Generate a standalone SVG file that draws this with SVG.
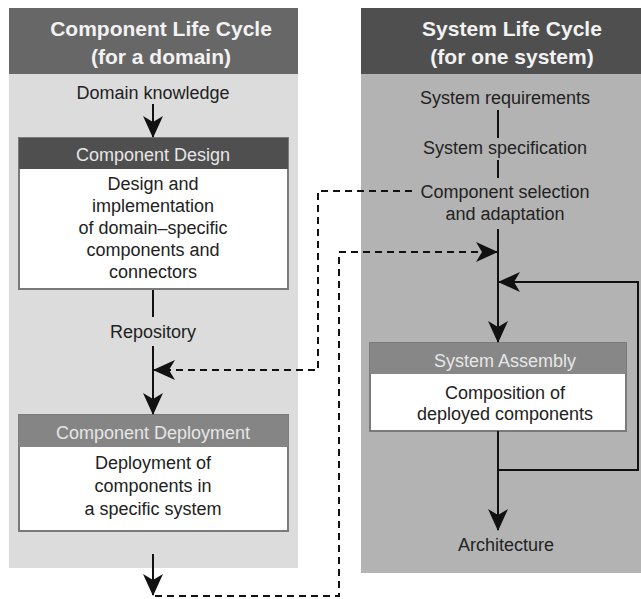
<svg xmlns="http://www.w3.org/2000/svg" width="641" height="599" viewBox="0 0 641 599">
  <style>
    text { font-family: "Liberation Sans", Arial, sans-serif; text-anchor: middle; }
    .title { font-size: 21px; font-weight: bold; fill: #f2f2f2; }
    .body { font-size: 18px; fill: #222; }
    .hdr { font-size: 18px; fill: #e6e6e6; }
    .box { fill: #fff; stroke: #7a7a7a; stroke-width: 2; }
    .solid { fill: none; stroke: #111; stroke-width: 2; }
    .dash { fill: none; stroke: #111; stroke-width: 2; stroke-dasharray: 7 5; }
  </style>
  <defs>
    <marker id="arrow" viewBox="0 0 22 20" markerWidth="22" markerHeight="20" refX="21" refY="10" orient="auto" markerUnits="userSpaceOnUse">
      <path d="M0,0 L22,10 L0,20 L6,10 z" fill="#111"/>
    </marker>
  </defs>

  <!-- Left column: component life cycle -->
  <g id="component-life-cycle">
    <rect x="9" y="74" width="289" height="494" fill="#dcdcdc"/>
    <rect x="9" y="8" width="289" height="66" fill="#676767"/>
    <text class="title" x="161" y="36">Component Life Cycle</text>
    <text class="title" x="161" y="64">(for a domain)</text>
    <text class="body" x="153" y="99">Domain knowledge</text>
    <text class="body" x="153" y="338">Repository</text>
  </g>

  <!-- Right column: system life cycle -->
  <g id="system-life-cycle">
    <rect x="361" y="74" width="280" height="499" fill="#b3b3b3"/>
    <rect x="361" y="8" width="280" height="66" fill="#4f4f4f"/>
    <text class="title" x="512" y="36">System Life Cycle</text>
    <text class="title" x="512" y="64">(for one system)</text>
    <text class="body" x="505" y="104">System requirements</text>
    <text class="body" x="505" y="154">System specification</text>
    <text class="body" x="505" y="198">Component selection</text>
    <text class="body" x="505" y="220">and adaptation</text>
    <text class="body" x="506" y="551">Architecture</text>
  </g>

  <g id="component-design">
    <rect class="box" x="19" y="138" width="269" height="151"/>
    <rect x="19" y="138" width="269" height="31" fill="#4f4f4f"/>
    <text class="hdr" x="153" y="161">Component Design</text>
    <text class="body" x="153" y="190">Design and</text>
    <text class="body" x="153" y="212">implementation</text>
    <text class="body" x="153" y="234">of domain–specific</text>
    <text class="body" x="153" y="256">components and</text>
    <text class="body" x="153" y="278">connectors</text>
  </g>

  <g id="component-deployment">
    <rect class="box" x="19" y="415" width="269" height="116"/>
    <rect x="19" y="415" width="269" height="32" fill="#858585"/>
    <text class="hdr" x="153" y="439">Component Deployment</text>
    <text class="body" x="153" y="469">Deployment of</text>
    <text class="body" x="153" y="492">components in</text>
    <text class="body" x="153" y="515">a specific system</text>
  </g>

  <g id="system-assembly">
    <rect class="box" x="370" y="343" width="256" height="88"/>
    <rect x="370" y="343" width="256" height="31" fill="#878787"/>
    <text class="hdr" x="505" y="367">System Assembly</text>
    <text class="body" x="505" y="399">Composition of</text>
    <text class="body" x="505" y="420">deployed components</text>
  </g>

  <g id="connectors">
    <!-- component life cycle flow -->
    <line class="solid" x1="153" y1="104" x2="153" y2="137" marker-end="url(#arrow)"/>
    <line class="solid" x1="153" y1="290" x2="153" y2="317"/>
    <line class="solid" x1="153" y1="346" x2="153" y2="414" marker-end="url(#arrow)"/>
    <line class="solid" x1="153" y1="554" x2="153" y2="595" marker-end="url(#arrow)"/>
    <!-- system life cycle flow -->
    <line class="solid" x1="498" y1="110" x2="498" y2="138"/>
    <line class="solid" x1="498" y1="160" x2="498" y2="178"/>
    <line class="solid" x1="498" y1="229" x2="498" y2="342" marker-end="url(#arrow)"/>
    <line class="solid" x1="498" y1="431" x2="498" y2="530" marker-end="url(#arrow)"/>
    <polyline class="solid" points="498,470 638,470 638,282 499,282" marker-end="url(#arrow)"/>
    <!-- cross-cycle links -->
    <polyline class="dash" points="412,191 318,191 318,370 154,370" marker-end="url(#arrow)"/>
    <polyline class="dash" points="155,596 339,596 339,252 497,252" marker-end="url(#arrow)"/>
  </g>
</svg>
